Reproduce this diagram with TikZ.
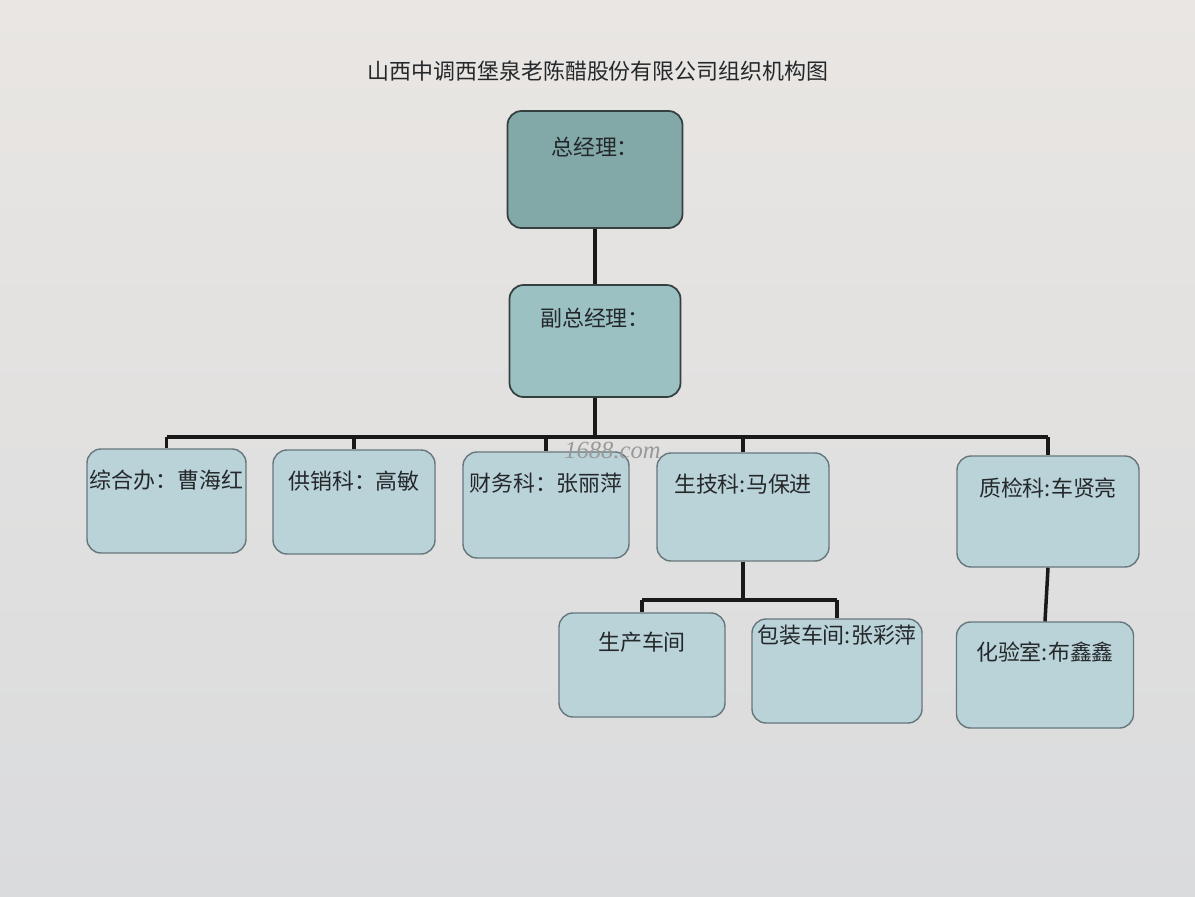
\documentclass[tikz,border=0pt]{standalone}
\usepackage{fontspec}
\setmainfont{Noto Sans CJK SC}
\newfontfamily\markfont{Liberation Serif}
\usetikzlibrary{positioning}
\definecolor{paper}{HTML}{E9E6E3}
\definecolor{paperlow}{HTML}{DADBDD}
\definecolor{headA}{HTML}{82A8A8}
\definecolor{headB}{HTML}{9CC1C3}
\definecolor{cell}{HTML}{BAD3D9}
\definecolor{edge}{HTML}{66777C}
\definecolor{edgedk}{HTML}{34403F}
\definecolor{ink}{HTML}{25282A}

\begin{document}
\begin{tikzpicture}[
  font=\fontsize{12.5}{15}\selectfont,
  box/.style={draw=edge,line width=0.8pt,fill=cell,rounded corners=8pt,inner xsep=1pt,inner ysep=0pt,
              text height=0.78cm,text depth=1.3cm,text=ink},
  head/.style={box,draw=edgedk,line width=1pt},
  wire/.style={draw=black!90,line width=2pt}]
\shade[top color=paper,bottom color=paperlow] (0,0) rectangle (23.9,-17.92);
\node[text=ink] (title) at (11.96,-1.42) {山西中调西堡泉老陈醋股份有限公司组织机构图};
% top of the chart
\node[head,fill=headA,minimum width=3.5cm,text height=0.88cm,text depth=1.46cm] (gm) at (11.9,-3.39) {总经理：};
\node[head,fill=headB,minimum width=3.42cm,text height=0.82cm,text depth=1.42cm] (vgm) at (11.9,-6.82) {副总经理：};
% offices
\node[box,minimum width=3.18cm] (o1) at (3.33,-10.02) {综合办：曹海红};
\node[box,minimum width=3.24cm] (o2) at (7.08,-10.04) {供销科：高敏};
\node[box,minimum width=3.32cm,text depth=1.34cm] (o3) at (10.92,-10.1) {财务科：张丽萍};
\node[box,minimum width=3.44cm,text depth=1.38cm] (o4) at (14.86,-10.14) {生技科:马保进};
\node[box,minimum width=3.64cm,text height=0.8cm,text depth=1.42cm] (o5) at (20.96,-10.23) {质检科:车贤亮};
% workshops
\node[box,minimum width=3.32cm,text height=0.74cm,text depth=1.34cm] (s1) at (12.84,-13.3) {生产车间};
\node[box,minimum width=3.4cm,text height=0.48cm,text depth=1.6cm] (s2) at (16.74,-13.42) {包装车间:张彩萍};
\node[box,minimum width=3.54cm,text height=0.76cm,text depth=1.36cm] (s3) at (20.9,-13.5) {化验室:布鑫鑫};
\node[text=black!40,font=\markfont\itshape\fontsize{14}{16}\selectfont] (wm) at (12.25,-9.0) {1688.com};
% lines
\coordinate (bus) at (11.9,-8.74);
\coordinate (sub) at (14.86,-12.0);
\draw[wire] (gm.south) -- (vgm.north);
\draw[wire] (vgm.south) -- (bus);
\draw[wire] (bus -| o1.north) -- (bus -| o5.north);
\foreach \n in {o1,o2,o3,o4,o5}
  \draw[wire] (bus -| \n.north) -- (\n.north);
\draw[wire] (o4.south) -- (sub);
\draw[wire] (sub -| s1.north) -- (sub -| s2.north);
\foreach \n in {s1,s2}
  \draw[wire] (sub -| \n.north) -- (\n.north);
\draw[wire] (o5.south) -- (s3.north);
\end{tikzpicture}
\end{document}
